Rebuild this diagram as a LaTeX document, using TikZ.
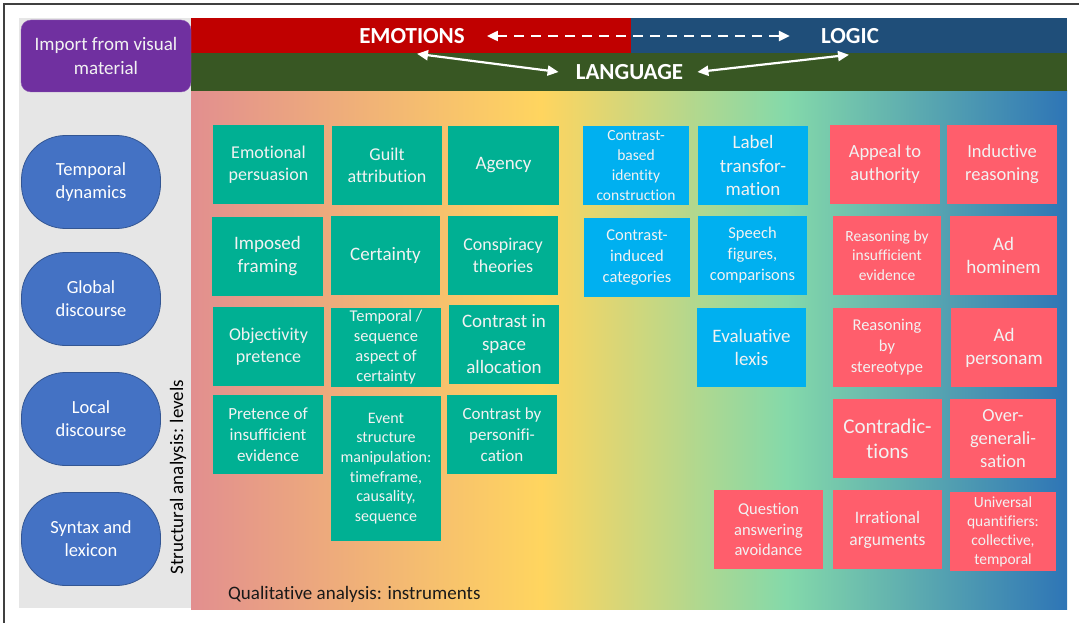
\documentclass[tikz,border=0pt]{standalone}
\usepackage{fontspec}
\setmainfont{Carlito}[Ligatures=NoCommon]
\usetikzlibrary{arrows.meta,calc}
\def\fs#1#2{\fontsize{#1}{#2}\selectfont}

\definecolor{panelgray}{RGB}{230,230,230}
\definecolor{importpurple}{RGB}{112,48,160}
\definecolor{emored}{RGB}{192,0,0}
\definecolor{logicnavy}{RGB}{31,78,121}
\definecolor{langgreen}{RGB}{56,87,35}
\definecolor{levelblue}{RGB}{68,114,196}
\definecolor{instrteal}{RGB}{0,176,147}
\definecolor{lexisblue}{RGB}{0,176,240}
\definecolor{fallacyred}{RGB}{255,94,108}
\definecolor{boxtext}{RGB}{242,242,242}
\definecolor{gpink}{RGB}{226,143,143}
\definecolor{gyellow}{RGB}{255,213,95}
\definecolor{gmint}{RGB}{132,217,170}
\definecolor{gblue}{RGB}{46,117,182}

\pgfdeclarehorizontalshading{spectrum}{100bp}{color(0bp)=(gpink); color(25bp)=(gpink); color(45bp)=(gyellow); color(59bp)=(gmint); color(75bp)=(gblue); color(100bp)=(gblue)}

\tikzset{
	level/.style={fill=levelblue, draw=levelblue!75!black, line width=0.8pt, rounded corners=44pt, minimum width=139pt, minimum height=93pt, inner sep=0pt, align=center, text=white, font=\fs{18.5}{23}},
	instr/.style={fill=instrteal, minimum width=110pt, minimum height=79pt, inner sep=0pt, align=center, text=boxtext, font=\fs{18}{22}},
	lexis/.style={instr, fill=lexisblue},
	fallacy/.style={instr, fill=fallacyred},
	pole/.style={inner sep=0pt, text=white, font=\bfseries\fs{23}{27}},
	dblarrow/.style={white, line width=2.2pt, {Triangle[length=11pt,width=10pt]}-{Triangle[length=11pt,width=10pt]}}
}

\begin{document}
\begin{tikzpicture}[x=1pt, y=-1pt]
		%%%%% START %%%%%
		\useasboundingbox (0,0) rectangle (1079,623);
		\draw[line width=1.3pt, black!75] (4,623) -- (4,4) -- (1079,4);
		
		\fill[panelgray] (19,18) rectangle (192,608);
		\shade[shading=spectrum] (191,91) rectangle (1067,609);
		
		\fill[emored] (191,18) rectangle (631,53);
		\fill[logicnavy] (631,18) rectangle (1067,53);
		\fill[langgreen] (191,53) rectangle (1067,91);
		
		\node[fill=importpurple, draw=importpurple!80!white, rounded corners=10pt, minimum width=170pt, minimum height=72pt, inner sep=0pt, align=center, text=boxtext, font=\fs{19}{24}] (import) at (106,56) {Import from visual\\material};
		
		\node[pole] (emo) at (412,36) {EMOTIONS};
		\node[pole] (logic) at (850,36) {LOGIC};
		\node[pole] (lang) at (629.5,72) {LANGUAGE};
		
		\draw[dblarrow, dash pattern=on 10pt off 7pt, shorten <=22pt, shorten >=31pt] (emo.east) -- (logic.west);
		\draw[dblarrow] ($(emo.south)+(5,10)$) -- ($(lang.west)+(-17,0)$);
		\draw[dblarrow] ($(lang.east)+(14,0)$) -- ($(logic.south)+(-1,11)$);
		
		% levels
		\node[level] (temporal) at (91,182) {Temporal\\dynamics};
		\node[level] (global) at (91,299) {Global\\discourse};
		\node[level] (local) at (91,419) {Local\\discourse};
		\node[level] (syntax) at (91,539) {Syntax and\\lexicon};
		\node[rotate=90, font=\fs{19}{23}] (structural) at (178,477) {Structural analysis: levels};
		
		% instruments
		\node[instr, minimum width=111pt] (emopers) at (268.5,164.5) {Emotional\\persuasion};
		\node[instr] (guilt) at (387,165.5) {Guilt\\attribution};
		\node[instr, minimum width=111pt, font=\fs{19}{23}] (agency) at (503.5,165.5) {Agency};
		\node[instr, minimum width=111pt, font=\fs{19}{23}] (imposed) at (267.5,256.5) {Imposed\\framing};
		\node[instr, minimum width=109pt, font=\fs{19}{23}] (certainty) at (385.5,255.5) {Certainty};
		\node[instr] (conspiracy) at (503,255.5) {Conspiracy\\theories};
		\node[instr, minimum width=111pt] (objectivity) at (268.5,346.5) {Objectivity\\pretence};
		\node[instr, font=\fs{16.5}{20}] (tempseq) at (386,347.5) {Temporal /\\sequence\\aspect of\\certainty};
		\node[instr, font=\fs{19}{23}] (spacealloc) at (504,344.5) {Contrast in\\space\\allocation};
		\node[instr, font=\fs{17}{21}] (pretence) at (268,434.5) {Pretence of\\insufficient\\evidence};
		\node[instr, minimum height=145pt, font=\fs{16}{19.7}] (event) at (386,468.5) {Event\\structure\\manipulation:\\timeframe,\\causality,\\sequence};
		\node[instr, font=\fs{17}{21}] (personif) at (502,434.5) {Contrast by\\personifi-\\cation};
		
		\node[lexis, minimum width=106pt, font=\fs{15.5}{19.7}] (identity) at (636,165.5) {Contrast-\\based\\identity\\construction};
		\node[lexis, font=\fs{19}{23.3}] (labeltr) at (753,165.5) {Label\\transfor-\\mation};
		\node[lexis, minimum width=106pt, font=\fs{16.5}{20.8}] (induced) at (637,257.5) {Contrast-\\induced\\categories};
		\node[lexis, minimum width=109pt, font=\fs{16.5}{21}] (speech) at (752.5,255.5) {Speech\\figures,\\comparisons};
		\node[lexis, minimum width=109pt, font=\fs{19}{23}] (evalex) at (751.5,347.5) {Evaluative\\lexis};
		
		\node[fallacy, font=\fs{18.5}{23}] (appeal) at (885,164.5) {Appeal to\\authority};
		\node[fallacy, font=\fs{18.5}{23}] (inductive) at (1002,164.5) {Inductive\\reasoning};
		\node[fallacy, minimum width=108pt, font=\fs{15.5}{19.5}] (insuff) at (887,255.5) {Reasoning by\\insufficient\\evidence};
		\node[fallacy, minimum width=107pt, font=\fs{19}{23}] (hominem) at (1003.5,255.5) {Ad\\hominem};
		\node[fallacy, minimum width=108pt, font=\fs{16.5}{21}] (stereo) at (887,347.5) {Reasoning\\by\\stereotype};
		\node[fallacy, minimum width=106pt, font=\fs{19}{23}] (personam) at (1004,347.5) {Ad\\personam};
		\node[fallacy, minimum width=109pt, font=\fs{21}{25}] (contradict) at (887.5,438.5) {Contradic-\\tions};
		\node[fallacy, minimum width=106pt, font=\fs{18.5}{23}] (overgen) at (1003,438.5) {Over-\\generali-\\sation};
		\node[fallacy, minimum width=109pt, font=\fs{16.5}{20.8}] (avoid) at (768.5,529.5) {Question\\answering\\avoidance};
		\node[fallacy, minimum width=109pt, font=\fs{17.5}{22}] (irrational) at (887.5,529.5) {Irrational\\arguments};
		\node[fallacy, minimum width=106pt, font=\fs{15.5}{19}] (universal) at (1003,531.5) {Universal\\quantifiers:\\collective,\\temporal};
		
		\node[anchor=west, inner sep=0pt, text=black!90, font=\fs{19}{23}] (qualitative) at (228,594) {Qualitative analysis: instruments};
		%%%%% END %%%%%
\end{tikzpicture}
\end{document}
